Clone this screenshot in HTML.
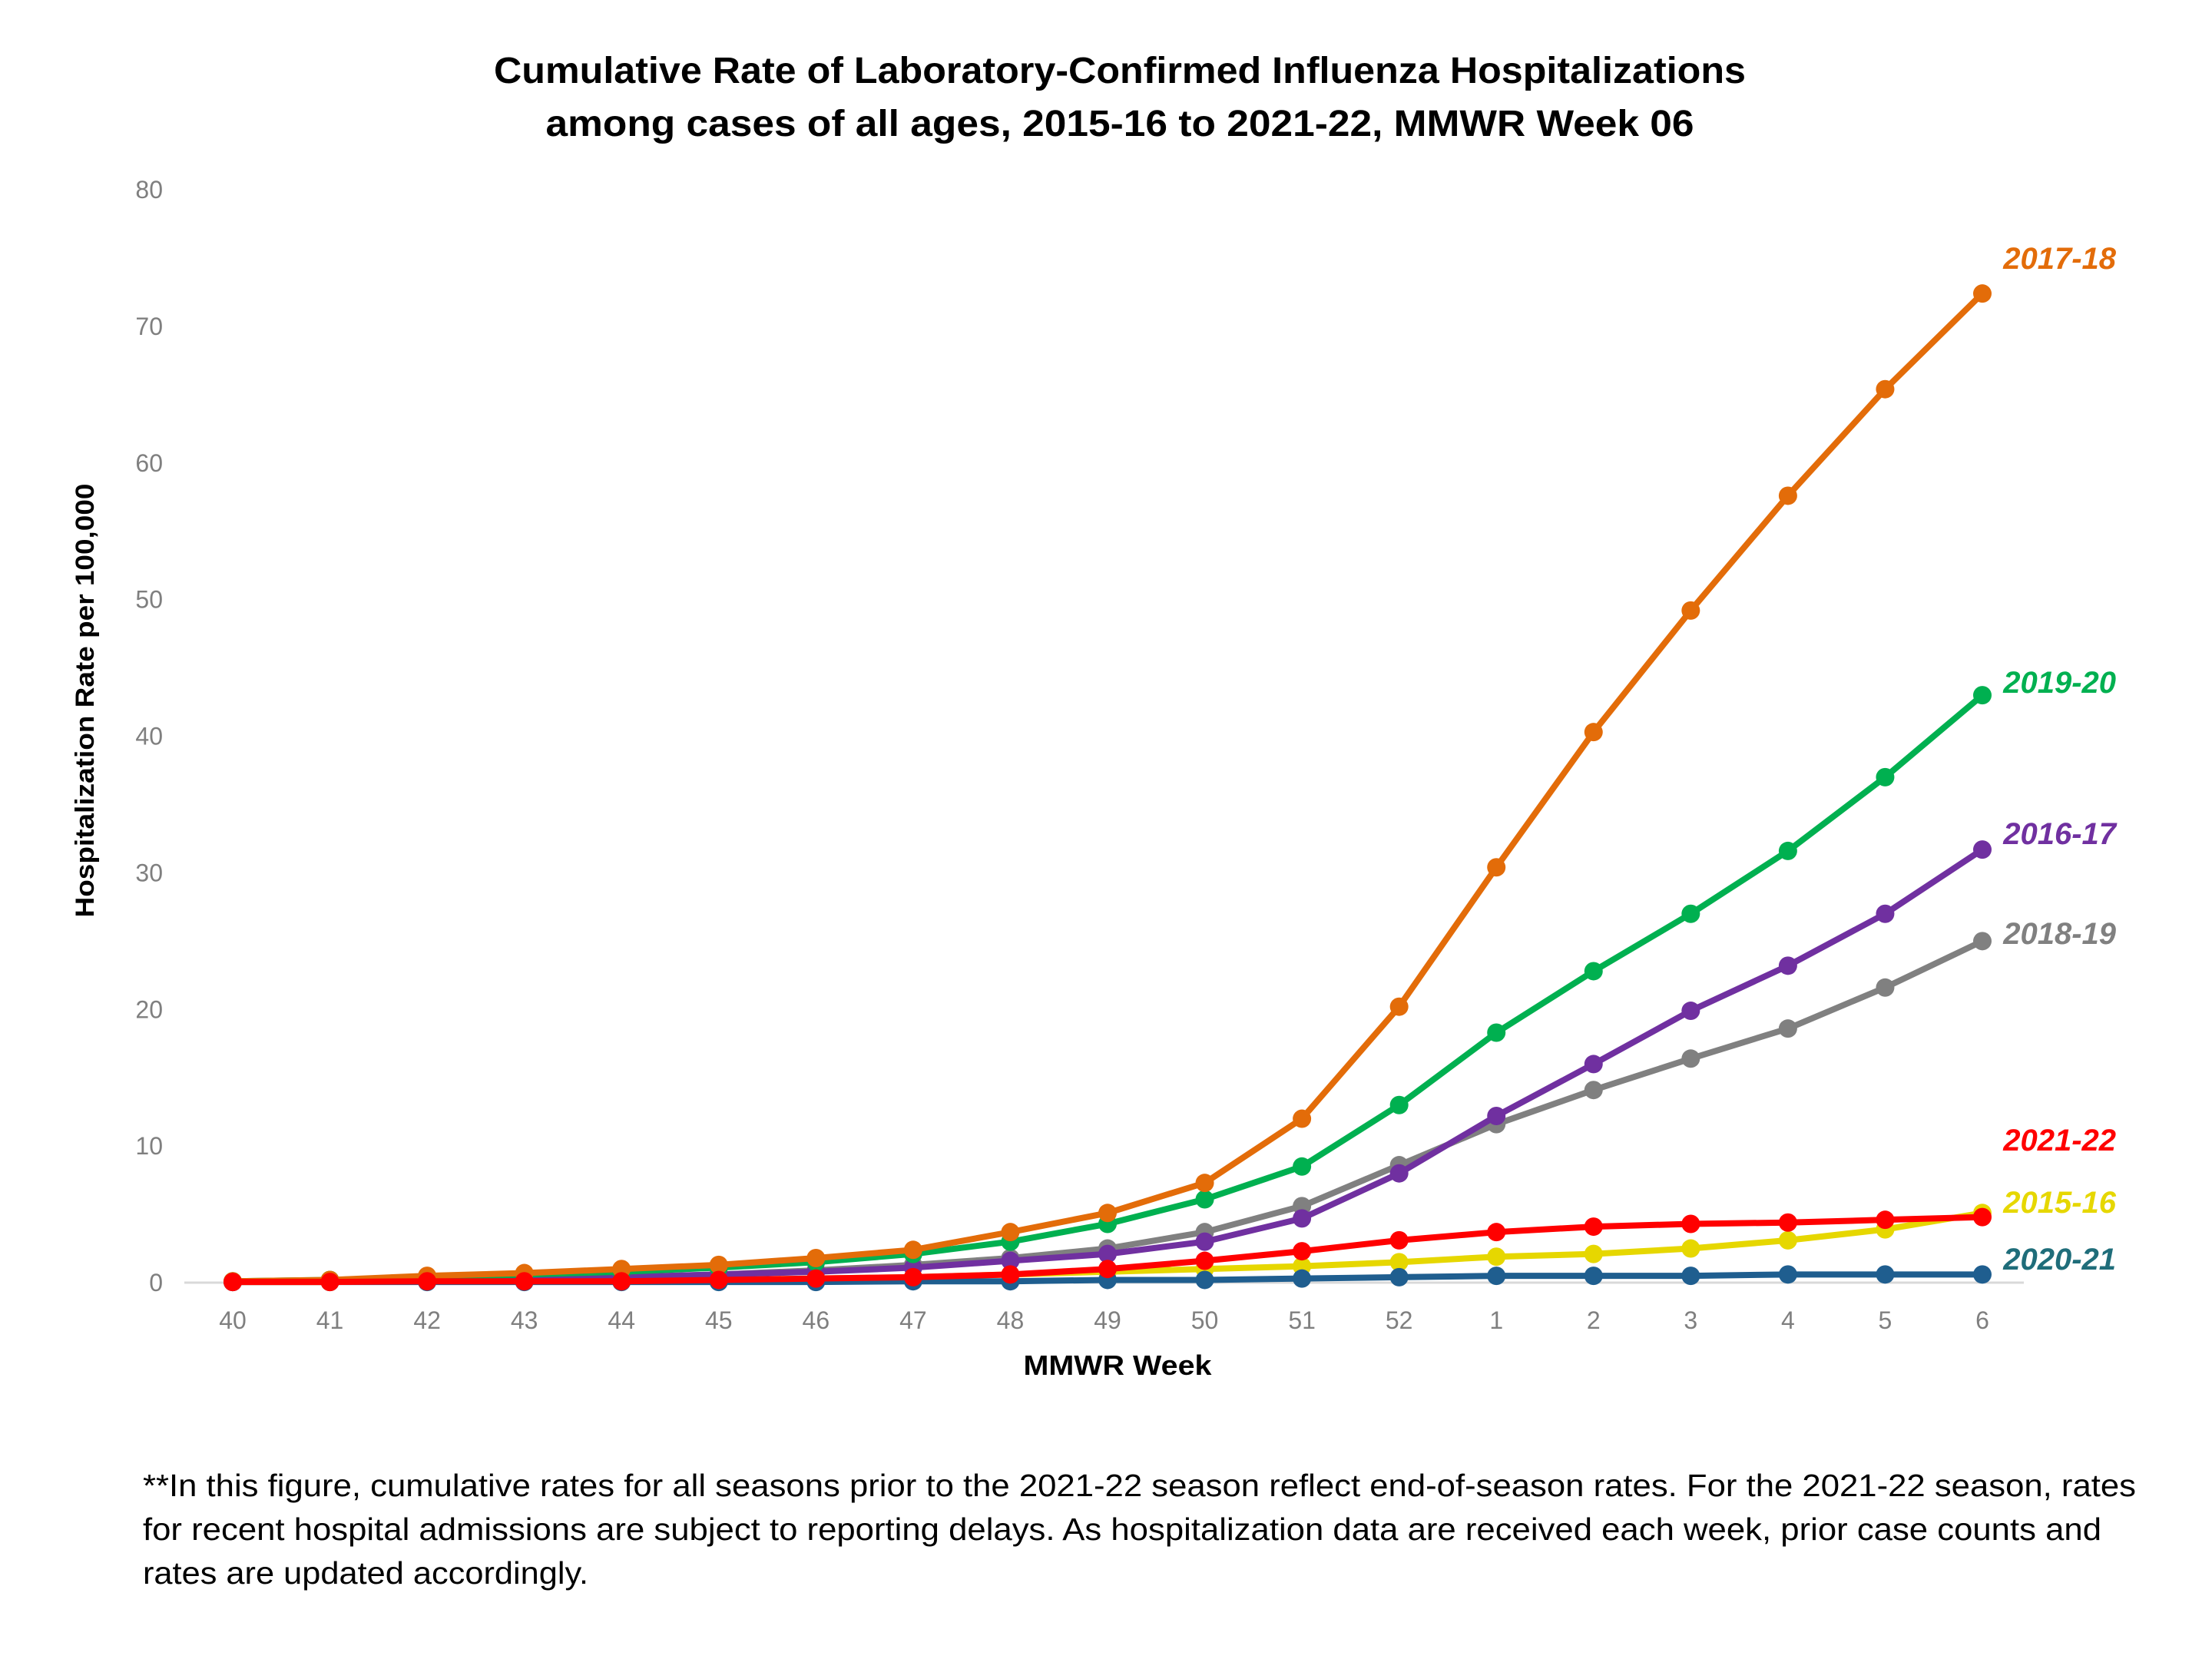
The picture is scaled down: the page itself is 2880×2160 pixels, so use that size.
<!DOCTYPE html>
<html><head><meta charset="utf-8"><style>
html,body{margin:0;padding:0;background:#fff;}
svg{display:block;font-family:"Liberation Sans",sans-serif;}
</style></head><body>
<svg id="chart" width="2880" height="2160" viewBox="0 0 2880 2160" xmlns="http://www.w3.org/2000/svg">
<text x="1458" y="108" text-anchor="middle" font-size="48" font-weight="bold" textLength="1630" lengthAdjust="spacingAndGlyphs">Cumulative Rate of Laboratory-Confirmed Influenza Hospitalizations</text>
<text x="1458" y="177" text-anchor="middle" font-size="48" font-weight="bold" textLength="1495" lengthAdjust="spacingAndGlyphs">among cases of all ages, 2015-16 to 2021-22, MMWR Week 06</text>
<text transform="translate(122,912) rotate(-90)" text-anchor="middle" font-size="34" font-weight="bold" textLength="565" lengthAdjust="spacingAndGlyphs">Hospitalization Rate per 100,000</text>
<text x="1455" y="1790" text-anchor="middle" font-size="36" font-weight="bold" textLength="245" lengthAdjust="spacingAndGlyphs">MMWR Week</text>
<g id="yticks"></g><g id="xticks"></g>
<line x1="240" y1="1670" x2="2635" y2="1670" stroke="#d9d9d9" stroke-width="3"/>
<g id="series"></g>
<g id="labels"></g>
<g font-size="41" fill="#000">
<text x="186" y="1948" textLength="2595" lengthAdjust="spacingAndGlyphs">**In this figure, cumulative rates for all seasons prior to the 2021-22 season reflect end-of-season rates. For the 2021-22 season, rates</text>
<text x="186" y="2005" textLength="2550" lengthAdjust="spacingAndGlyphs">for recent hospital admissions are subject to reporting delays. As hospitalization data are received each week, prior case counts and</text>
<text x="186" y="2062" textLength="580" lengthAdjust="spacingAndGlyphs">rates are updated accordingly.</text>
</g>
</svg>
<script>
const weeks = ["40","41","42","43","44","45","46","47","48","49","50","51","52","1","2","3","4","5","6"];
const yTicks = [0,10,20,30,40,50,60,70,80];
const s2015_16 = [0.05,0.05,0.1,0.1,0.15,0.2,0.3,0.4,0.6,0.8,1.0,1.2,1.5,1.9,2.1,2.5,3.1,3.9,5.1];
const s2020_21 = [0.05,0.05,0.05,0.05,0.05,0.05,0.05,0.1,0.1,0.2,0.2,0.3,0.4,0.5,0.5,0.5,0.6,0.6,0.6];
const s2018_19 = [0.05,0.1,0.2,0.3,0.4,0.6,0.9,1.3,1.8,2.5,3.7,5.6,8.6,11.6,14.1,16.4,18.6,21.6,25.0];
const s2016_17 = [0.05,0.1,0.2,0.3,0.4,0.6,0.8,1.1,1.6,2.1,3.0,4.7,8.0,12.2,16.0,19.9,23.2,27.0,31.7];
const s2019_20 = [0.1,0.2,0.4,0.6,0.8,1.1,1.5,2.1,3.0,4.3,6.1,8.5,13.0,18.3,22.8,27.0,31.6,37.0,43.0];
const s2017_18 = [0.1,0.2,0.5,0.7,1.0,1.3,1.8,2.4,3.7,5.1,7.3,12.0,20.2,30.4,40.3,49.2,57.6,65.4,72.4];
const s2021_22 = [0.05,0.05,0.1,0.1,0.1,0.2,0.3,0.4,0.6,1.0,1.6,2.3,3.1,3.7,4.1,4.3,4.4,4.6,4.8];
const seriesNames = ["2015-16","2020-21","2018-19","2016-17","2019-20","2017-18","2021-22"];
const seriesData = [s2015_16,s2020_21,s2018_19,s2016_17,s2019_20,s2017_18,s2021_22];
const seriesColors = ["#e6d700","#1f5e8f","#808080","#7030a0","#00b050","#e36c09","#ff0000"];
const labelColors = ["#e6d700","#1f6d7a","#808080","#7030a0","#00b050","#e36c09","#ff0000"];
const labelY = [1566,1640,1216,1086,889,337,1485];

const NS="http://www.w3.org/2000/svg";
const x0=303,x1=2581,yb=1670,yt=247;
function xs(i){return x0+(x1-x0)*i/(weeks.length-1);}
function ys(v){return yb-(yb-yt)*v/80;}
function mk(t,a,p){const e=document.createElementNS(NS,t);for(const k in a)e.setAttribute(k,a[k]);p.appendChild(e);return e;}

const yg=document.getElementById('yticks');
yTicks.forEach(v=>{const t=mk('text',{x:212,y:ys(v)+11,'text-anchor':'end','font-size':32,fill:'#7f7f7f'},yg);


t.textContent=v;});
const xg=document.getElementById('xticks');
weeks.forEach((w,i)=>{const t=mk('text',{x:xs(i),y:1730,'text-anchor':'middle','font-size':32,fill:'#7f7f7f'},xg);


t.textContent=w;});

const sg=document.getElementById('series');
seriesData.forEach((d,si)=>{
 const g=mk('g',{},sg);
 
 
 const pts=d.map((v,i)=>xs(i)+','+ys(v)).join(' ');
 const pl=mk('polyline',{points:pts,fill:'none',stroke:seriesColors[si],'stroke-width':8,'stroke-linejoin':'round'},g);
 
 
 d.forEach((v,i)=>{const c=mk('circle',{cx:xs(i),cy:ys(v),r:12,fill:seriesColors[si]},g);
 
 });
});
const lg=document.getElementById('labels');
seriesNames.forEach((n,si)=>{const t=mk('text',{x:2755,y:labelY[si]+13,'text-anchor':'end','font-size':40,'font-weight':'bold','font-style':'italic',fill:labelColors[si]},lg);


t.textContent=n;});
</script>
</body></html>
